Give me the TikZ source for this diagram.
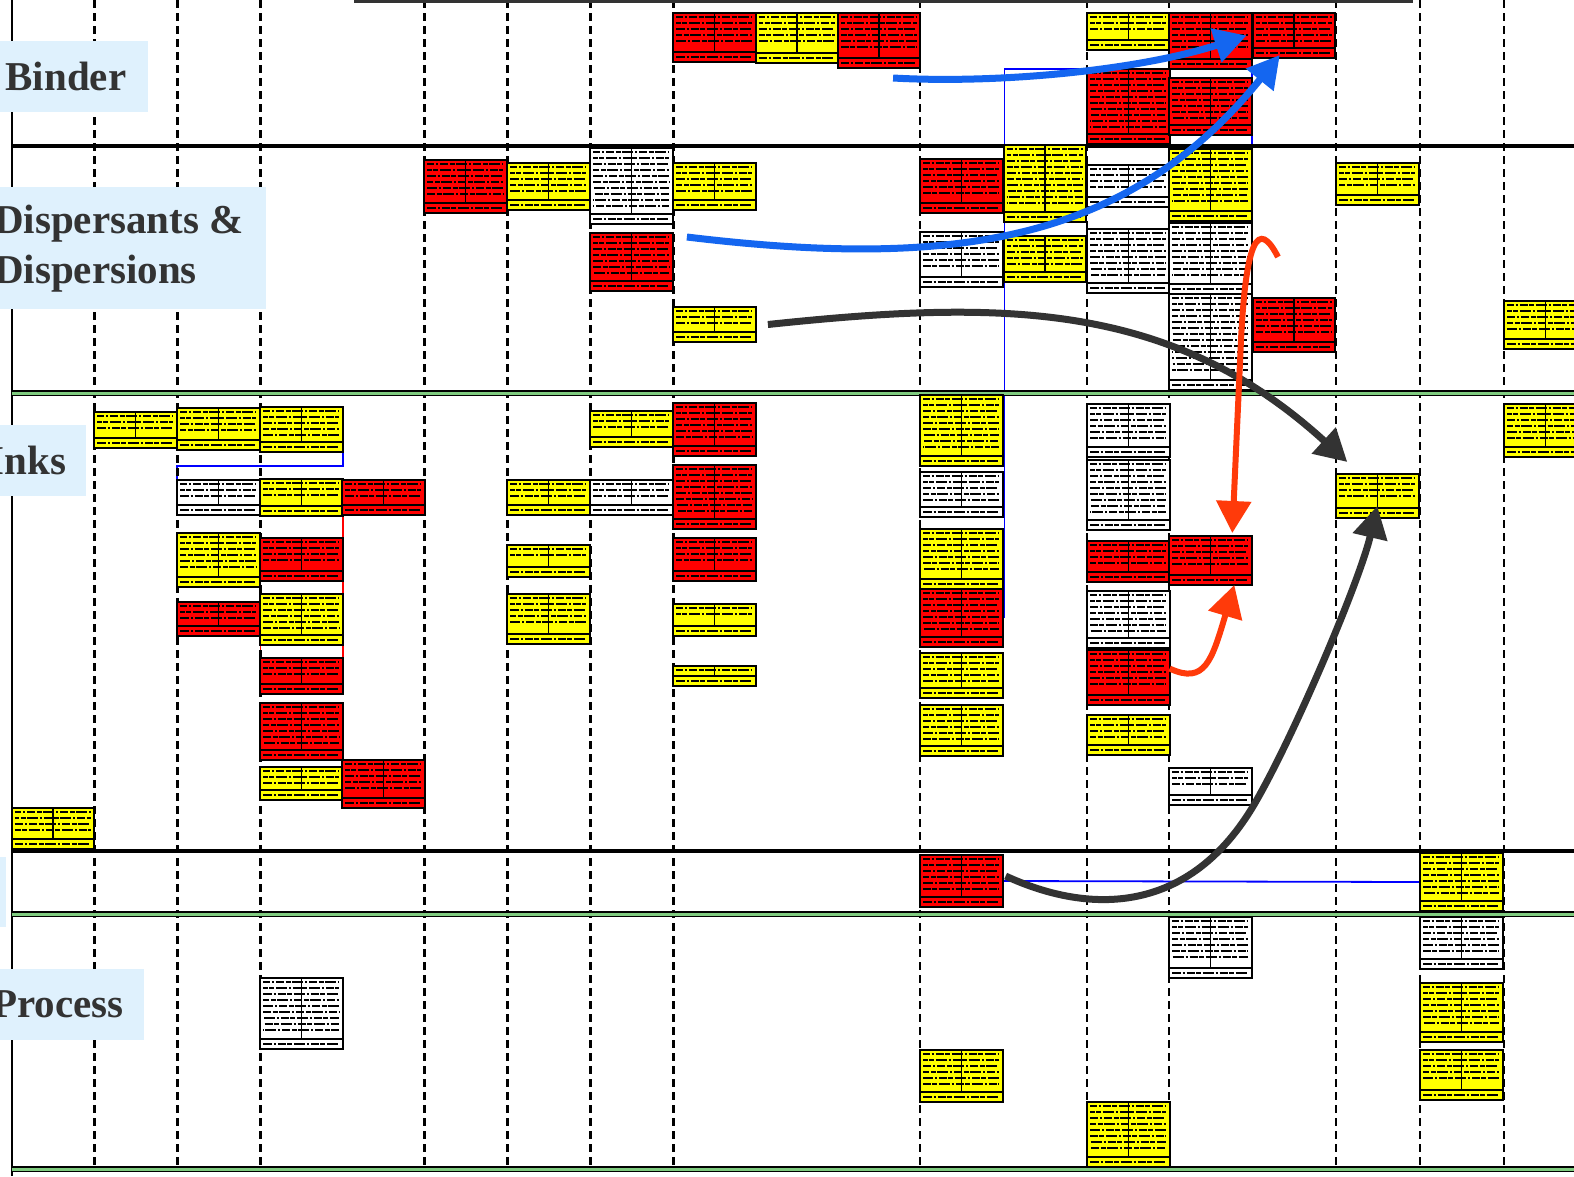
\documentclass[tikz,border=0pt]{standalone}
\usepackage{fontspec}
\setmainfont{Liberation Serif}
\usetikzlibrary{arrows.meta, calc, backgrounds}
\definecolor{cardRed}{HTML}{FF0000}
\definecolor{cardYellow}{HTML}{FFFF00}
\definecolor{laneBlue}{HTML}{DFF1FD}
\definecolor{laneText}{HTML}{333333}
\definecolor{laneGreen}{HTML}{7FCB7F}
\definecolor{flowBlue}{HTML}{1466F0}
\definecolor{flowDark}{HTML}{333333}
\definecolor{flowRed}{HTML}{FF3A0A}
\newcommand\cardtext{%
  \pgfmathtruncatemacro\cardlast{max(\cardh-17,4)}%
  \foreach \r in {4,10,...,\cardlast}{%
    \pgfmathsetmacro\cardph{mod(\r*2.7,34)}%
    \draw[scrib, dash phase=\cardph pt] ([shift={(3pt,-\r pt)}]path picture bounding box.north west) -- ++(76pt,0pt);
  }%
  \draw[scrib, dash phase=9pt] ([shift={(3pt,5pt)}]path picture bounding box.south west) -- ++(76pt,0pt);
  \draw[line width=1.4pt] ([yshift=10pt]path picture bounding box.south west) -- ([yshift=10pt]path picture bounding box.south east);
  \draw[line width=1.4pt] ([xshift=41.3pt]path picture bounding box.north west) -- ([shift={(41.3pt,10pt)}]path picture bounding box.south west);
}

\begin{document}
\begin{tikzpicture}[x=1pt, y=-1pt,
  card/.style={draw=black, line width=2pt, minimum width=82.6pt, minimum height=#1pt,
               inner sep=0pt, outer sep=0pt, anchor=north west,
               /utils/exec={\def\cardh{#1}}, path picture={\cardtext}},
  rc/.style={card=#1, fill=cardRed},
  yc/.style={card=#1, fill=cardYellow},
  wc/.style={card=#1, fill=white},
  scrib/.style={line width=2.2pt, dash pattern=on 5pt off 1.5pt on 11pt off 2pt on 2pt off 2pt on 8pt off 1.5pt},
  lane/.style={fill=laneBlue, text=laneText, font=\fontsize{41}{50}\selectfont\bfseries, inner sep=0pt},
  colline/.style={line width=2.4pt, dash pattern=on 8pt off 5pt},
  laneline/.style={line width=4pt},
  greenline/.style={line width=1.3pt, double=laneGreen, double distance=3.4pt},
  bluelink/.style={draw=blue, line width=1.8pt},
  redlink/.style={draw=red, line width=1.5pt},
  flow/.style={line width=7pt, -{Triangle[length=32pt,width=34pt]}},
]
  \useasboundingbox (0,0) rectangle (1574,1176);

  \foreach \cx in {94.3,177.3,260.3,424.3,507.3,590.3,673.3,920,1087,1169,1336,1420,1504}
    \draw[colline] (\cx,0) -- (\cx,1169);
  \draw[line width=2.2pt] (11.7,0) -- (11.7,1176);
  \draw[line width=5pt, laneText] (354,0.5) -- (1413,0.5);
  \draw[laneline] (11.7,145.7) -- (1574,145.7);
  \draw[laneline] (11.7,850.7) -- (1574,850.7);
  \draw[greenline] (11.7,393.3) -- (1574,393.3);
  \draw[greenline] (11.7,914.3) -- (1574,914.3);
  \draw[greenline] (11.7,1169.3) -- (1574,1169.3);

  % binder
  \node[rc=49] (b1) at (673.3,13) {};
  \node[yc=50] (b2) at (755.5,13) {};
  \node[rc=55] (b3) at (837.8,13) {};
  \node[yc=37] (b4) at (1087,13) {};
  \node[rc=56] (b5) at (1169,13) {};
  \node[rc=45] (b6) at (1252.5,13) {};
  \node[rc=75] (b7) at (1087,69) {};
  \node[rc=57] (b8) at (1169,78) {};

  % dispersants
  \node[rc=53] (d1) at (424.3,160) {};
  \node[yc=47] (d2) at (507.3,163) {};
  \node[wc=76] (d3) at (590.3,148) {};
  \node[yc=47] (d4) at (673.3,163) {};
  \node[rc=58] (d5) at (590.3,233) {};
  \node[yc=35] (d6) at (673.3,307) {};
  \node[rc=54] (d7) at (920,159) {};
  \node[wc=55] (d8) at (920,232) {};
  \node[yc=77] (d9) at (1003.5,145) {};
  \node[yc=46] (d10) at (1003.5,236) {};
  \node[wc=42] (d11) at (1087,165) {};
  \node[wc=64] (d12) at (1087,229) {};
  \node[yc=72] (d13) at (1169,149) {};
  \node[wc=71] (d14) at (1169,223) {};
  \node[wc=96] (d15) at (1169,294) {};
  \node[rc=54] (d16) at (1252.5,298) {};
  \node[yc=42] (d17) at (1336,163) {};
  \node[yc=48] (d18) at (1504,301) {};

  % inks
  \node[yc=36] (k1) at (94.3,412) {};
  \node[yc=42] (k2) at (177.3,408) {};
  \node[yc=45] (k3) at (260.3,407) {};
  \node[wc=35] (k4) at (177.3,480) {};
  \node[yc=37] (k5) at (260.3,479) {};
  \node[rc=35] (k6) at (342.3,480) {};
  \node[yc=54] (k7) at (177.3,533) {};
  \node[rc=43] (k8) at (260.3,538) {};
  \node[rc=34] (k9) at (177.3,602) {};
  \node[yc=51] (k10) at (260.3,594) {};
  \node[rc=36] (k11) at (260.3,658) {};
  \node[rc=57] (k12) at (260.3,703) {};
  \node[yc=33] (k13) at (260.3,767) {};
  \node[rc=48] (k14) at (342.3,760) {};
  \node[yc=41] (k15) at (11.7,808) {};
  \node[yc=35] (k16) at (507.3,480) {};
  \node[wc=35] (k17) at (590.3,480) {};
  \node[yc=32] (k18) at (507.3,545) {};
  \node[yc=50] (k19) at (507.3,594) {};
  \node[yc=36] (k20) at (590.3,411) {};
  \node[rc=53] (k21) at (673.3,403) {};
  \node[rc=64] (k22) at (673.3,465) {};
  \node[rc=43] (k23) at (673.3,538) {};
  \node[yc=32] (k24) at (673.3,604) {};
  \node[yc=20] (k25) at (673.3,666) {};
  \node[yc=71] (k26) at (920,395) {};
  \node[wc=45] (k27) at (920,472) {};
  \node[yc=60] (k28) at (920,529) {};
  \node[rc=58] (k29) at (920,589) {};
  \node[yc=45] (k30) at (920,653) {};
  \node[yc=51] (k31) at (920,705) {};
  \node[wc=53] (k32) at (1087,404) {};
  \node[wc=70] (k33) at (1087,460) {};
  \node[rc=41] (k34) at (1087,541) {};
  \node[rc=49] (k35) at (1169,536) {};
  \node[wc=57] (k36) at (1087,591) {};
  \node[rc=55] (k37) at (1087,650) {};
  \node[yc=40] (k38) at (1087,715) {};
  \node[wc=37] (k39) at (1169,768) {};
  \node[yc=44] (k40) at (1336,474) {};
  \node[yc=53] (k41) at (1504,404) {};

  % middle row and process
  \node[rc=52] (m1) at (920,855) {};
  \node[yc=58] (m2) at (1420,853) {};
  \node[wc=61] (p1) at (1169,917) {};
  \node[wc=52] (p2) at (1420,917) {};
  \node[yc=59] (p3) at (1420,983) {};
  \node[yc=50] (p4) at (1420,1050) {};
  \node[wc=71] (p5) at (260.3,978) {};
  \node[yc=52] (p6) at (920,1050) {};
  \node[yc=65] (p7) at (1087,1102) {};

  \begin{pgfonlayer}{background}
    \fill[white] (0,0) rectangle (1574,1176);
    \draw[bluelink] ([xshift=1.8pt]k29.east) |- (b7.north west) -| (d13.north east);
    \draw[bluelink] (m1.east) -- (m2.west);
    \draw[bluelink] (k4.north west) -- ++(0,-14) -| (k3.south east);
    \draw[redlink] (k5.south east) -- (k8.north east);
    \draw[redlink] (k8.south east) -- (k10.north east);
    \draw[redlink] (k10.south west) -- (k11.north west);
    \draw[redlink] (k10.south east) -- (k11.north east);
  \end{pgfonlayer}

  \node[lane, minimum width=163pt, minimum height=71pt] (lBinder) at (66,76.3) {Binder};
  \node[lane, align=left, inner xsep=22pt, minimum height=122pt, anchor=north east] (lDisp) at (265.7,187) {Dispersants \&\\Dispersions};
  \node[lane, minimum width=117pt, minimum height=71pt, anchor=north east] (lInks) at (86,425) {Inks};
  \node[lane, minimum width=40pt, minimum height=70pt, anchor=north east] (lMid) at (6,857) {};
  \node[lane, minimum width=172pt, minimum height=71pt, anchor=north east] (lProcess) at (144,969) {Process};

  \coordinate (curl) at (1278,257);
  \draw[flow, flowBlue] ([shift={(14pt,-10pt)}]b3.south) .. controls (1000,84) and (1140,70) .. ([xshift=-6pt]b6.west);
  \draw[flow, flowBlue] ([shift={(14pt,-4pt)}]d5.north east) .. controls (960,270) and (1130,240) .. ([shift={(-14pt,3pt)}]b6.south);
  \draw[flow, flowDark] ([xshift=12pt]d6.east) .. controls (1000,300) and (1170,300) .. ([shift={(-30pt,12pt)}]k40.north);
  \draw[flow, flowDark] ([shift={(3pt,5pt)}]m1.east) .. controls (1090,915) and (1190,915) .. (1255,803)
    .. controls (1295,734) and (1360,580) .. ([yshift=12pt]k40.south);
  \draw[flow, flowRed, line width=6pt] (curl) .. controls (1258,218) and (1246,240) .. (1241,340) -- ([shift={(22pt,3pt)}]k35.north);
  \draw[flow, flowRed, line width=6pt] ([yshift=9pt]k37.east) .. controls (1205,685) and (1212,660) .. ([xshift=24pt]k35.south);
\end{tikzpicture}
\end{document}
